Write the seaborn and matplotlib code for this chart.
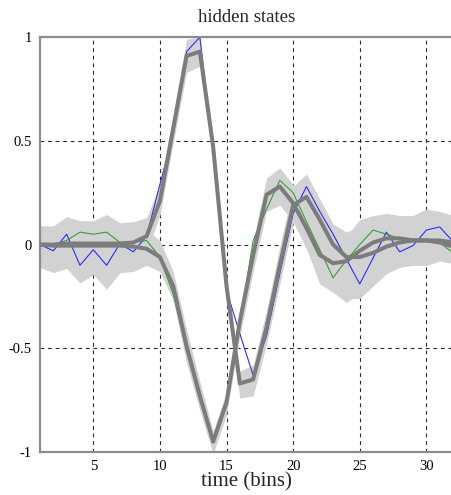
import matplotlib
matplotlib.use("Agg")
import matplotlib.pyplot as plt
import numpy as np
import pandas as pd
import seaborn as sns

# time axis (bins)
time_bins = list(range(1, 33))

# true hidden states
state1_true = [0.00, -0.03, 0.05, -0.10, -0.025, -0.10, 0.005, -0.035, 0.04, 0.29,
               0.53, 0.93, 1.00, 0.45, -0.22, -0.43, -0.63, -0.44, -0.14, 0.15,
               0.28, 0.16, 0.05, -0.07, -0.19, -0.065, 0.06, -0.035, -0.005, 0.07,
               0.085, 0.015]
state2_true = [0.00, 0.00, 0.02, 0.06, 0.05, 0.06, 0.01, 0.01, 0.02, -0.06,
               -0.24, -0.50, -0.75, -0.95, -0.78, -0.38, 0.02, 0.17, 0.31, 0.25,
               0.11, -0.025, -0.16, -0.075, 0.00, 0.07, 0.05, 0.03, 0.02, 0.02,
               0.01, -0.04]

# posterior mean estimates
state1_est = [0.00, 0.00, 0.005, 0.005, 0.005, 0.005, 0.005, 0.01, 0.04, 0.21,
              0.56, 0.91, 0.93, 0.47, -0.20, -0.67, -0.65, -0.40, -0.10, 0.19,
              0.23, 0.12, 0.00, -0.06, -0.06, -0.04, -0.01, 0.01, 0.02, 0.02,
              0.02, 0.01]
state2_est = [0.00, -0.005, -0.005, -0.005, -0.005, -0.005, -0.005, -0.01, -0.02, -0.06,
              -0.20, -0.49, -0.73, -0.95, -0.76, -0.37, -0.05, 0.24, 0.28, 0.20,
              0.08, -0.05, -0.09, -0.08, -0.03, 0.01, 0.03, 0.03, 0.02, 0.02,
              0.01, -0.01]

# credible band half-widths above / below the estimates
band_upper = [0.09, 0.09, 0.13, 0.11, 0.11, 0.14, 0.10, 0.10, 0.09, 0.08,
              0.07, 0.08, 0.07, 0.05, 0.05, 0.06, 0.07, 0.08, 0.09, 0.09,
              0.11, 0.10, 0.10, 0.12, 0.15, 0.13, 0.12, 0.11, 0.12, 0.15,
              0.14, 0.13]
band_lower = [0.11, 0.13, 0.11, 0.18, 0.14, 0.21, 0.13, 0.12, 0.08, 0.07,
              0.07, 0.08, 0.07, 0.06, 0.06, 0.07, 0.08, 0.08, 0.09, 0.09,
              0.10, 0.14, 0.14, 0.20, 0.20, 0.16, 0.13, 0.12, 0.12, 0.12,
              0.09, 0.08]

x_ticks = [5, 10, 15, 20, 25, 30]
y_ticks = [-1, -0.5, 0, 0.5, 1]
y_tick_labels = ["-1", "-0.5", "0", "0.5", "1"]

sns.set_theme(style="white")
plt.rcParams["font.family"] = ["Liberation Serif", "DejaVu Serif"]

df = pd.DataFrame({
    "time": time_bins * 4,
    "value": state1_true + state2_true + state1_est + state2_est,
    "series": (["true 1"] * 32 + ["true 2"] * 32 + ["est 1"] * 32 + ["est 2"] * 32),
})

fig = plt.figure(figsize=(4.52, 4.95), dpi=100)
ax = fig.add_axes([0.0885, 0.0869, 0.9137, 0.838])

grid_kw = dict(color="#2a2a2a", linewidth=0.8, linestyle=(0, (3.4, 3.4)), zorder=0)
for xv in x_ticks:
    ax.axvline(xv, **grid_kw)
for yv in [-0.5, 0, 0.5]:
    ax.axhline(yv, **grid_kw)

t = np.array(time_bins)
up = np.array(band_upper)
dn = np.array(band_lower)
for est in (state1_est, state2_est):
    e = np.array(est)
    ax.fill_between(t, e - dn, e + up, color="#d2d2d2", linewidth=0, zorder=1)

sns.lineplot(data=df[df.series == "true 1"], x="time", y="value", color="#2b2bff",
             linewidth=0.8, ax=ax, zorder=2)
sns.lineplot(data=df[df.series == "true 2"], x="time", y="value", color="#35a035",
             linewidth=0.8, ax=ax, zorder=2)
for name in ("est 1", "est 2"):
    sns.lineplot(data=df[df.series == name], x="time", y="value", color="#7c7c7c",
                 linewidth=2.9, ax=ax, zorder=3)

ax.set_xlim(1, 32)
ax.set_ylim(-1, 1)
ax.set_xticks(x_ticks)
ax.set_xticklabels([str(v) for v in x_ticks])
ax.set_yticks(y_ticks)
ax.set_yticklabels(y_tick_labels)
ax.tick_params(axis="both", length=0, labelsize=10.5, colors="black")
ax.tick_params(axis="x", pad=6)
ax.tick_params(axis="y", pad=6)

for side in ("left", "bottom", "top"):
    ax.spines[side].set_color("#8c8c8c")
    ax.spines[side].set_linewidth(1.6)
ax.spines["right"].set_visible(False)

ax.set_title("hidden states", fontsize=13.5, pad=11)
ax.set_xlabel("time (bins)", fontsize=15, labelpad=-1)
ax.set_ylabel("")

fig.savefig("out.png", dpi=100)
